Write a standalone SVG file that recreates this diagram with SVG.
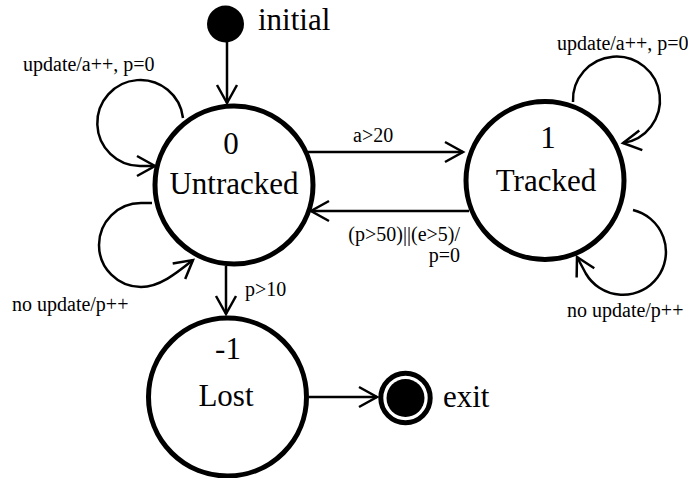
<svg xmlns="http://www.w3.org/2000/svg" width="688" height="478" viewBox="0 0 688 478">
<style>
.state{fill:#fff;stroke:#000;stroke-width:5}
.big{font-family:"Liberation Serif","Times New Roman",serif;font-size:31px;fill:#000}
.lbl{font-family:"Liberation Serif","Times New Roman",serif;font-size:20px;fill:#000}
.mid{text-anchor:middle}
.end{text-anchor:end}
.edge{fill:none;stroke:#000;stroke-width:2.5;marker-end:url(#arr)}
</style>
<defs>
<marker id="arr" markerUnits="userSpaceOnUse" markerWidth="24" markerHeight="26" refX="19" refY="11" orient="auto" overflow="visible">
<path d="M1,1 L19,11 L1,21" fill="none" stroke="#000" stroke-width="2.5"/>
</marker>
</defs>
<rect width="688" height="478" fill="#fff"/>
<g id="connectors">
<path class="edge" d="M227,40 L227,103"/>
<path class="edge" d="M306,152 L463,152"/>
<path class="edge" d="M469,211 L311,211"/>
<path class="edge" d="M226,266 L226,314"/>
<path class="edge" d="M309,397 L377,397"/>
<path class="edge" d="M183,118 A43,43 0 1 0 140,166 L155,166"/>
<path class="edge" d="M152,203 L141,203 A42,42 0 0 0 141,287 C160,287 178,272 193,260"/>
<path class="edge" d="M573,102 A43.5,43.5 0 1 1 623,143"/>
<path class="edge" d="M633,210 A43,43 0 1 1 585.8,273.5 L577,257"/>
<text class="lbl" x="23" y="71">update/a++, p=0</text>
<text class="lbl" x="557" y="50">update/a++, p=0</text>
<text class="lbl" x="353" y="142">a&gt;20</text>
<text class="lbl end" x="460" y="241">(p&gt;50)||(e&gt;5)/</text>
<text class="lbl end" x="460" y="262">p=0</text>
<text class="lbl" x="245" y="296">p&gt;10</text>
<text class="lbl" x="12" y="311">no update/p++</text>
<text class="lbl" x="567" y="317">no update/p++</text>
</g>
<g id="initial">
<circle cx="225.5" cy="24" r="18.5" fill="#000"/>
<text class="big" x="258" y="30">initial</text>
</g>
<g id="untracked">
<circle class="state" cx="234" cy="185" r="79"/>
<text class="big mid" x="231" y="154">0</text>
<text class="big mid" x="234" y="194">Untracked</text>
</g>
<g id="tracked">
<circle class="state" cx="545" cy="180.5" r="79"/>
<text class="big mid" x="548" y="148">1</text>
<text class="big mid" x="546" y="191">Tracked</text>
</g>
<g id="lost">
<circle class="state" cx="227.5" cy="397" r="79"/>
<text class="big mid" x="228" y="359">-1</text>
<text class="big mid" x="226" y="406">Lost</text>
</g>
<g id="exit">
<circle cx="405.5" cy="398" r="24.7" fill="#fff" stroke="#000" stroke-width="5"/>
<circle cx="405.5" cy="398" r="19" fill="#000"/>
<text class="big" x="443" y="407">exit</text>
</g>
</svg>
